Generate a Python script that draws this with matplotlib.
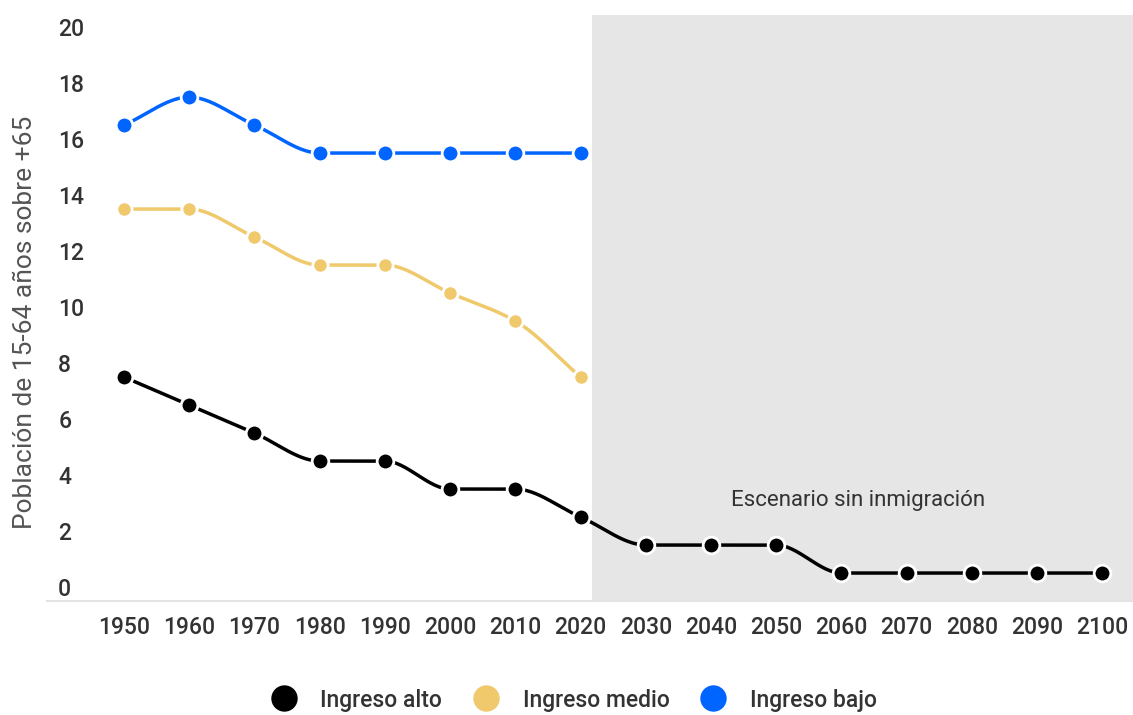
import numpy as np
import matplotlib
matplotlib.use("Agg")
import matplotlib.pyplot as plt
from matplotlib.lines import Line2D

plt.rcParams["font.family"] = ["Roboto", "DejaVu Sans"]

# ── Data ──────────────────────────────────────────────────────────────────────
years = [1950, 1960, 1970, 1980, 1990, 2000, 2010, 2020,
         2030, 2040, 2050, 2060, 2070, 2080, 2090, 2100]
ingreso_alto = [7.5, 6.5, 5.5, 4.5, 4.5, 3.5, 3.5, 2.5,
                1.5, 1.5, 1.5, 0.5, 0.5, 0.5, 0.5, 0.5]
ingreso_medio = [13.5, 13.5, 12.5, 11.5, 11.5, 10.5, 9.5, 7.5]
ingreso_bajo = [16.5, 17.5, 16.5, 15.5, 15.5, 15.5, 15.5, 15.5]
y_ticks = [0, 2, 4, 6, 8, 10, 12, 14, 16, 18, 20]

SERIES = [
    ("Ingreso alto", ingreso_alto, "#000000", 12),
    ("Ingreso medio", ingreso_medio, "#efc96b", 11),
    ("Ingreso bajo", ingreso_bajo, "#0064ff", 12),
]


def monotone_curve(x, y, n=30):
    """Fritsch-Carlson monotone cubic through the points."""
    x = np.asarray(x, float)
    y = np.asarray(y, float)
    h = np.diff(x)
    d = np.diff(y) / h
    m = np.zeros_like(y)
    m[0], m[-1] = d[0], d[-1]
    for i in range(1, len(y) - 1):
        if d[i - 1] * d[i] <= 0:
            m[i] = 0.0
        else:
            w1 = 2 * h[i] + h[i - 1]
            w2 = h[i] + 2 * h[i - 1]
            m[i] = (w1 + w2) / (w1 / d[i - 1] + w2 / d[i])
    xs, ys = [], []
    for i in range(len(x) - 1):
        t = np.linspace(0, 1, n)
        h00 = 2 * t**3 - 3 * t**2 + 1
        h10 = t**3 - 2 * t**2 + t
        h01 = -2 * t**3 + 3 * t**2
        h11 = t**3 - t**2
        xs.append(x[i] + t * h[i])
        ys.append(h00 * y[i] + h10 * h[i] * m[i] + h01 * y[i + 1] + h11 * h[i] * m[i + 1])
    return np.concatenate(xs), np.concatenate(ys)


fig = plt.figure(figsize=(11.33, 7.15), dpi=100)
ax = fig.add_axes([0.0415, 0.1594, 0.9585, 0.8196])

idx = np.arange(len(years))
ax.set_xlim(-1.18, 15.47)
ax.set_ylim(-0.5, 20.43)

# projection area
ax.axvspan(7.18, 15.47, color="#e6e6e6", lw=0, zorder=0)
ax.text(11.25, 3.1, "Escenario sin inmigración", ha="center", va="center",
        fontsize=16, color="#333333")

for label, vals, color, ms in SERIES:
    xi = idx[:len(vals)]
    cx, cy = monotone_curve(xi, vals)
    ax.plot(cx, cy, color=color, lw=2.5, zorder=2, solid_capstyle="round")
    ax.plot(xi, vals, "o", color=color, markersize=ms, markeredgecolor="white",
            markeredgewidth=2, zorder=3)

ax.set_xticks(idx)
ax.set_xticklabels([str(y) for y in years])
ax.set_yticks(y_ticks)
ax.tick_params(axis="x", length=0, pad=11, labelsize=16.5, labelcolor="#333333")
ax.tick_params(axis="y", length=0, pad=-8, labelsize=16.5, labelcolor="#333333")
for t in ax.get_xticklabels() + ax.get_yticklabels():
    t.set_fontweight("medium")
for t in ax.get_yticklabels():
    t.set_horizontalalignment("left")

for side in ["top", "right", "left"]:
    ax.spines[side].set_visible(False)
ax.spines["bottom"].set_color("#e3e3e3")
ax.spines["bottom"].set_linewidth(1.5)

fig.text(25 / 1133, (715 - 322) / 715, "Población de 15-64 años sobre +65",
         rotation=90, ha="center", va="center", fontsize=19, color="#555555")

handles = [Line2D([], [], ls="none", marker="o", color=c, markersize=19,
                  markeredgewidth=0) for _, _, c, _ in SERIES]
fig.legend(handles, [s[0] for s in SERIES], loc="center",
           bbox_to_anchor=(0.506, (715 - 700) / 715), ncol=3, frameon=False,
           prop={"size": 16.5, "weight": "medium"}, handlelength=1.2,
           handletextpad=1.0, columnspacing=1.3, labelcolor="#333333")

fig.savefig("out.png", dpi=100)
